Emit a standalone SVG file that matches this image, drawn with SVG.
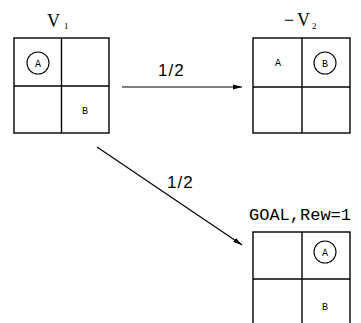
<svg xmlns="http://www.w3.org/2000/svg" width="361" height="323" viewBox="0 0 361 323">
<style>
.g{fill:none;stroke:#000;stroke-width:1.4}
.c{fill:none;stroke:#000;stroke-width:1.1}
.l{font-family:"Liberation Mono",monospace;font-size:10px;fill:#000;text-anchor:middle}
.t{font-family:"Liberation Serif",serif;fill:#000}
.s{font-family:"Liberation Sans",sans-serif;fill:#000;font-size:17px;letter-spacing:1px}
.m{font-family:"Liberation Mono",monospace;fill:#000}
.e{stroke:#000;stroke-width:1.2;fill:none}
</style>
<defs>
<marker id="ah" markerWidth="10" markerHeight="6" refX="9" refY="3" orient="auto" markerUnits="userSpaceOnUse">
<path d="M0,0.5 L9,3 L0,5.5 Z" fill="#000"/>
</marker>
</defs>
<rect width="361" height="323" fill="#fff"/>
<g id="state1">
<text class="t" x="47" y="27" font-size="18">V</text>
<text class="t" x="64" y="29" font-size="9">1</text>
<rect class="g" x="14" y="38" width="95" height="95"/>
<line class="g" x1="61.5" y1="38" x2="61.5" y2="133"/>
<line class="g" x1="14" y1="86" x2="109" y2="86"/>
<circle class="c" cx="38" cy="63" r="11"/>
<text class="l" x="38" y="67">A</text>
<text class="l" x="85" y="114">B</text>
</g>
<g id="state2">
<text class="t" x="284" y="26" font-size="18">−</text>
<text class="t" x="297" y="26" font-size="18">V</text>
<text class="t" x="312" y="29" font-size="9">2</text>
<rect class="g" x="253" y="38" width="97" height="95"/>
<line class="g" x1="302" y1="38" x2="302" y2="133"/>
<line class="g" x1="253" y1="87" x2="350" y2="87"/>
<text class="l" x="278" y="66">A</text>
<circle class="c" cx="325" cy="63" r="11"/>
<text class="l" x="325" y="67">B</text>
</g>
<g id="goal">
<text class="m" x="249" y="220" font-size="17">GOAL,Rew=1</text>
<rect class="g" x="253" y="232" width="97" height="100"/>
<line class="g" x1="302" y1="232" x2="302" y2="323"/>
<line class="g" x1="253" y1="279" x2="350" y2="279"/>
<circle class="c" cx="325" cy="252" r="11"/>
<text class="l" x="325" y="256">A</text>
<text class="l" x="325" y="310">B</text>
</g>
<g id="connectors">
<line class="e" x1="122" y1="87" x2="242" y2="87" marker-end="url(#ah)"/>
<text class="s" x="158" y="76">1/2</text>
<line class="e" x1="97" y1="147" x2="242" y2="245" marker-end="url(#ah)"/>
<text class="s" x="167" y="188">1/2</text>
</g>
</svg>
